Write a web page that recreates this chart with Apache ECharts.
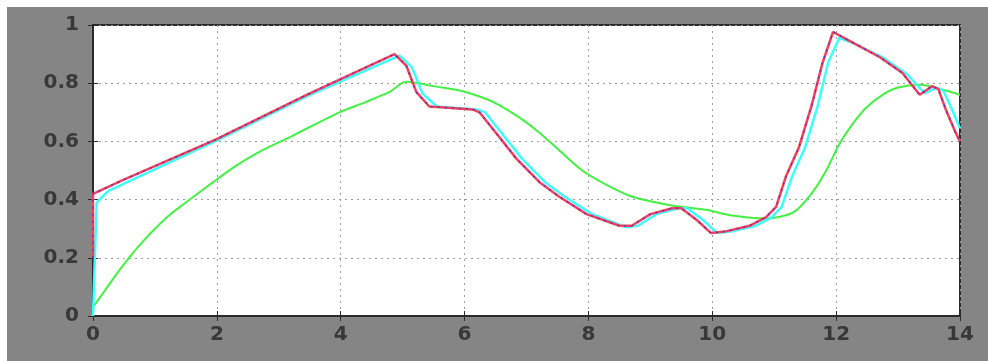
<!DOCTYPE html>
<html><head><meta charset="utf-8">
<script src="https://cdn.jsdelivr.net/npm/echarts@6/dist/echarts.min.js"></script>
<style>
html,body{margin:0;padding:0;background:#fff;width:988px;height:361px;overflow:hidden}
#c{position:absolute;left:7px;top:7px;width:981px;height:354px}
</style>
</head><body><div id="c"></div>
<script>
const xTickLabels = ['0','2','4','6','8','10','12','14'];
const yTickLabels = ['0','0.2','0.4','0.6','0.8','1'];

const redX = [0,0,0.48,1.97,3.45,4.87,5.06,5.22,5.43,6.13,6.24,6.56,6.84,7.21,7.53,7.97,8.5,8.7,9.0,9.35,9.5,9.75,9.98,10.2,10.6,10.87,11.03,11.19,11.4,11.6,11.78,11.95,12.18,12.7,13.07,13.35,13.55,13.65,13.77,13.93,14];
const redY = [0.2,0.42,0.467,0.605,0.76,0.90,0.86,0.77,0.72,0.71,0.70,0.615,0.54,0.46,0.41,0.35,0.31,0.31,0.35,0.37,0.37,0.33,0.285,0.29,0.31,0.34,0.375,0.48,0.58,0.72,0.87,0.976,0.95,0.89,0.835,0.76,0.79,0.78,0.71,0.63,0.60];

const blueX = [0,0,0.48,1.97,3.45,4.87,5.06,5.22,5.43,6.13,6.24,6.56,6.84,7.21,7.53,7.97,8.5,8.7,9.0,9.35,9.5,9.75,9.98,10.2,10.6,10.87,11.03,11.19,11.4,11.6,11.78,11.95,12.18,12.7,13.07,13.35,13.55,13.65,13.77,13.93,14];
const blueY = [0.2,0.42,0.467,0.605,0.76,0.90,0.86,0.77,0.72,0.71,0.70,0.615,0.54,0.46,0.41,0.35,0.31,0.31,0.35,0.37,0.37,0.33,0.285,0.29,0.31,0.34,0.375,0.48,0.58,0.72,0.87,0.976,0.95,0.89,0.835,0.76,0.79,0.78,0.71,0.63,0.60];

const cyanX = [0,0.03,0.06,0.25,1.97,3.45,4.95,5.15,5.32,5.55,6.2,6.33,6.65,6.93,7.3,7.62,8.06,8.6,8.8,9.1,9.45,9.6,9.85,10.08,10.3,10.7,10.96,11.12,11.29,11.5,11.7,11.87,12.05,12.25,12.78,13.15,13.43,13.62,13.73,13.85,14];
const cyanY = [0,0.2,0.39,0.43,0.6,0.755,0.895,0.855,0.765,0.72,0.71,0.70,0.615,0.54,0.46,0.41,0.35,0.305,0.31,0.35,0.37,0.37,0.33,0.285,0.29,0.31,0.34,0.375,0.48,0.58,0.72,0.87,0.955,0.94,0.885,0.83,0.765,0.785,0.775,0.72,0.645];

const greenX = [0,0.2,0.4,0.6,0.8,1.0,1.25,1.5,1.94,2.3,2.65,3.18,3.6,3.98,4.4,4.79,5.05,5.25,5.5,5.92,6.3,6.56,6.9,7.21,7.55,7.9,8.3,8.71,9.35,9.9,10.32,10.87,11.3,11.6,11.84,12.05,12.25,12.48,12.75,13.0,13.35,13.77,14];
const greenY = [0.03,0.09,0.15,0.205,0.255,0.30,0.35,0.39,0.46,0.515,0.56,0.615,0.66,0.70,0.735,0.77,0.805,0.80,0.79,0.775,0.75,0.725,0.68,0.63,0.565,0.50,0.45,0.41,0.38,0.365,0.345,0.335,0.355,0.42,0.50,0.59,0.655,0.715,0.76,0.785,0.795,0.775,0.76];

function pairs(xs, ys){ return xs.map((x,i)=>[x, ys[i]]); }

const chart = echarts.init(document.getElementById('c'), null, {renderer:'canvas'});
const labelFont = {color:'#383838', fontFamily:'DejaVu Sans', fontWeight:'bold', fontSize:20};
const grid = {left:86, top:18, right:28, bottom:45, show:true, backgroundColor:'#ffffff', borderColor:'#2a2a2a', borderWidth:2};
const splitStyle = {show:true, lineStyle:{color:'#9a9a9a', type:[2,4], width:1}};

chart.setOption({
  backgroundColor:'#858585',
  animation:false,
  grid: grid,
  xAxis: [{
    type:'value', min:0, max:14, interval:2,
    axisLine:{show:true, onZero:false, lineStyle:{color:'#2a2a2a', width:2}},
    axisTick:{show:true, inside:true, length:5, lineStyle:{color:'#2a2a2a'}},
    axisLabel:Object.assign({margin:9, formatter:v=>{const i=Math.round(v/2);return xTickLabels[i]!==undefined?xTickLabels[i]:String(v);}}, labelFont),
    splitLine: splitStyle
  },{
    type:'value', min:0, max:14, interval:2, position:'top',
    axisLine:{show:true, lineStyle:{color:'#2a2a2a', width:2}},
    axisTick:{show:true, inside:true, length:5, lineStyle:{color:'#2a2a2a'}},
    axisLabel:{show:false}, splitLine:{show:false}
  }],
  yAxis: [{
    type:'value', min:0, max:1, interval:0.2,
    axisLine:{show:true, onZero:false, lineStyle:{color:'#2a2a2a', width:2}},
    axisTick:{show:true, inside:true, length:5, lineStyle:{color:'#2a2a2a'}},
    axisLabel:Object.assign({margin:14, formatter:v=>{const i=Math.round(v*5);return yTickLabels[i]!==undefined?yTickLabels[i]:String(v);}}, labelFont),
    splitLine: splitStyle
  },{
    type:'value', min:0, max:1, interval:0.2, position:'right',
    axisLine:{show:true, lineStyle:{color:'#2a2a2a', width:2}},
    axisTick:{show:true, inside:true, length:5, lineStyle:{color:'#2a2a2a'}},
    axisLabel:{show:false}, splitLine:{show:false}
  }],
  series: [
    {type:'line', data:pairs(greenX, greenY), showSymbol:false, smooth:0.25, lineStyle:{color:'#44f044', width:2}},
    {type:'line', data:pairs(cyanX, cyanY), showSymbol:false, lineStyle:{color:'#3cffff', width:2.5}},
    {type:'line', data:pairs(redX, redY), showSymbol:false, lineStyle:{color:'#f4405c', width:2.5}},
    {type:'line', data:pairs(blueX, blueY), showSymbol:false, lineStyle:{color:'#6a30b0', width:1.5, type:[2,5]}}
  ]
});
</script>
</body></html>
